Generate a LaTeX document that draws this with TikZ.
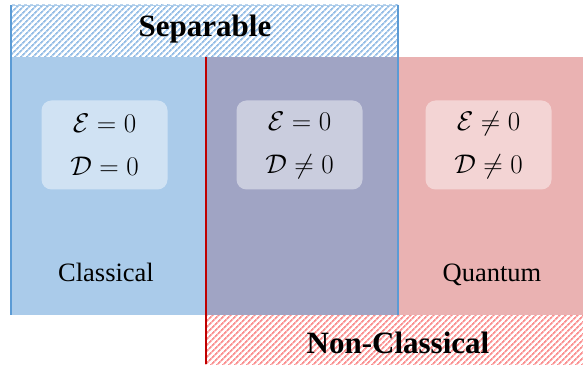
\RequirePackage{fix-cm}
\documentclass[tikz,border=0pt]{standalone}
\usepackage{fontspec}
\setmainfont{Liberation Serif}
\usetikzlibrary{patterns.meta}
\definecolor{sepblue}{RGB}{170,203,234}
\definecolor{mixpurple}{RGB}{160,164,196}
\definecolor{quantred}{RGB}{234,178,178}
\definecolor{edgeblue}{RGB}{91,155,213}
\definecolor{edgered}{RGB}{192,0,0}
\definecolor{hatchblue}{RGB}{150,190,230}
\definecolor{hatchred}{RGB}{250,145,145}

\begin{document}
\begin{tikzpicture}[x=1pt, y=1pt,
    hatch/.style={pattern={Lines[angle=45, distance=4pt, line width=1.9pt]}, pattern color=#1},
    valbox/.style={rounded corners=10pt, fill=white, fill opacity=0.45, text opacity=1, minimum width=126pt, minimum height=89pt, align=center, font=\fontsize{27}{43}\selectfont},
    title/.style={font=\fontsize{31}{36}\selectfont\bfseries, anchor=base},
    tag/.style={font=\fontsize{26.5}{30}\selectfont, anchor=base}
]
\useasboundingbox (0,0) rectangle (583,364);

% hatched headers
\fill[hatch=hatchblue] (10,307) rectangle (398,359);
\draw[edgeblue!50, line width=0.8pt] (10,359) -- (398,359);
\fill[hatch=hatchred] (205,0) rectangle (583,49);

% the two sets and their overlap
\fill[sepblue] (10,49) rectangle (205,307);
\fill[mixpurple] (205,49) rectangle (398,307);
\fill[quantred] (398,49) rectangle (583,307);

% set borders
\draw[edgered, line width=2pt] (205.5,307) -- (205.5,0);
\draw[edgeblue, line width=2.5pt] (11.2,359) -- (11.2,49);
\draw[edgeblue, line width=2.5pt] (398,359) -- (398,49);

\node[title] (sep) at (205,327) {Separable};
\node[title] (noncl) at (398,11) {Non-Classical};

\node[valbox] (cls) at (104.5,219) {$\mathcal{E}=0$\\ $\mathcal{D}=0$};
\node[valbox] (mix) at (299.5,219) {$\mathcal{E}=0$\\ $\mathcal{D}\neq 0$};
\node[valbox] (qua) at (488.5,219) {$\mathcal{E}\neq 0$\\ $\mathcal{D}\neq 0$};

\node[tag] (clstag) at (106,82) {Classical};
\node[tag] (quatag) at (492,82) {Quantum};
\end{tikzpicture}
\end{document}
